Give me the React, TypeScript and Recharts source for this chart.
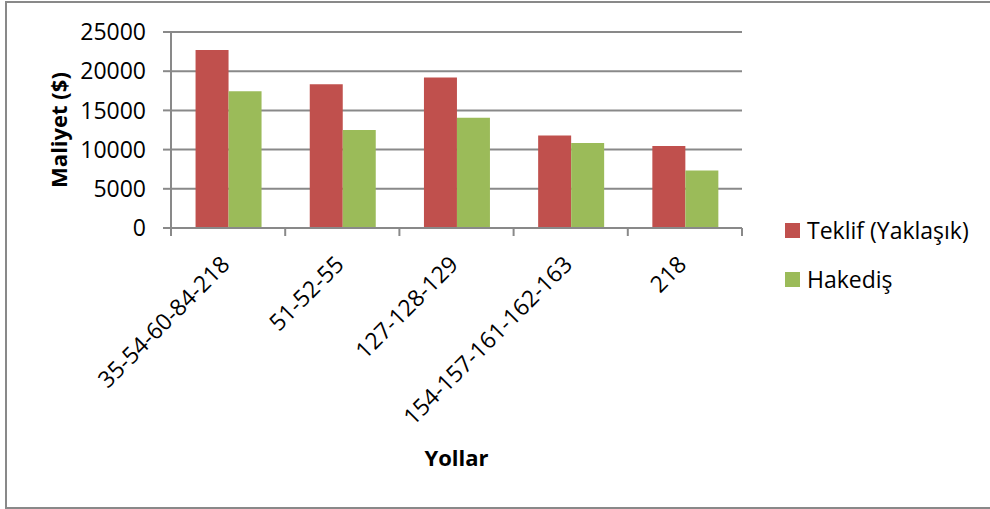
import React from "react";
import { BarChart, Bar, XAxis, YAxis, CartesianGrid, Legend, Label } from "recharts";

const categories = ["35-54-60-84-218", "51-52-55", "127-128-129", "154-157-161-162-163", "218"];
const teklif = [22700, 18350, 19200, 11800, 10450];
const hakedis = [17450, 12500, 14050, 10850, 7350];
const yTicks = [0, 5000, 10000, 15000, 20000, 25000];

const seriesNames = { teklif: "Teklif (Yaklaşık)", hakedis: "Hakediş" };
const colors = { teklif: "#C0504D", hakedis: "#9BBB59" };
const gray = "#898989";
const font = "'Open Sans', sans-serif";
const fs = 23;
const fsTitle = 22;

const data = categories.map((c, i) => ({ name: c, teklif: teklif[i], hakedis: hakedis[i] }));

const XTick = (props: any) => {
  const { x, payload, index, visibleTicksCount } = props;
  const axisY = 228;
  const half = payload && payload.offset ? payload.offset : 57.1;
  const ax = x + 3;
  const ay = axisY + 38;
  return (
    <g>
      <line x1={x - half} y1={axisY} x2={x - half} y2={axisY + 8} stroke={gray} strokeWidth={2} />
      {index === visibleTicksCount - 1 && (
        <line x1={x + half} y1={axisY} x2={x + half} y2={axisY + 8} stroke={gray} strokeWidth={2} />
      )}
      <text
        x={ax}
        y={ay}
        textAnchor="end"
        transform={`rotate(-45, ${ax}, ${ay})`}
        fontFamily={font}
        fontSize={fs}
        fill="#000"
      >
        {payload.value}
      </text>
    </g>
  );
};

const LegendContent = () => (
  <div style={{ fontFamily: font, fontSize: fs, color: "#000", whiteSpace: "nowrap", width: 220 }}>
    {(["teklif", "hakedis"] as const).map((k, i) => (
      <div key={k} style={{ display: "flex", alignItems: "center", height: 30, marginBottom: i === 0 ? 19 : 0 }}>
        <span
          style={{
            display: "inline-block",
            flex: "0 0 15px",
            width: 15,
            minWidth: 15,
            height: 15,
            background: colors[k],
            marginRight: 7,
          }}
        />
        <span>{seriesNames[k]}</span>
      </div>
    ))}
  </div>
);

export default function App() {
  return (
    <div style={{ position: "absolute", left: 0, top: 0, width: 990, height: 509, background: "#fff", overflow: "hidden" }}>
      <div
        style={{
          position: "absolute",
          left: 5,
          top: 1,
          width: 1000,
          height: 504,
          border: `2px solid ${gray}`,
          borderRight: "none",
        }}
      />
      <div style={{ position: "absolute", left: 0, top: 0 }}>
        <BarChart
          width={990}
          height={509}
          data={data}
          margin={{ top: 32, right: 248, bottom: 0, left: 0 }}
          barCategoryGap="21.5%"
          barGap={0}
        >
          <CartesianGrid vertical={false} stroke={gray} strokeWidth={2} strokeDasharray="" />
          <XAxis
            dataKey="name"
            height={281}
            axisLine={{ stroke: gray, strokeWidth: 2 }}
            tickLine={false}
            tick={<XTick />}
            interval={0}
          >
            <Label
              content={(p: any) => {
                const vb = p.viewBox;
                return (
                  <text
                    x={vb.x + vb.width / 2}
                    y={vb.y + 238}
                    textAnchor="middle"
                    fontFamily={font}
                    fontSize={fsTitle}
                    fontWeight="bold"
                    fill="#000"
                  >
                    Yollar
                  </text>
                );
              }}
            />
          </XAxis>
          <YAxis
            width={171}
            domain={[0, 25000]}
            ticks={yTicks}
            interval={0}
            axisLine={{ stroke: gray, strokeWidth: 2 }}
            tickLine={{ stroke: gray, strokeWidth: 2 }}
            tickSize={8}
            tickMargin={17}
            tick={{ fontFamily: font, fontSize: fs, fill: "#000" }}
          >
            <Label
              content={(p: any) => {
                const vb = p.viewBox;
                const cx = vb.x + 58;
                const cy = vb.y + vb.height / 2;
                return (
                  <text
                    x={cx}
                    y={cy}
                    textAnchor="middle"
                    dominantBaseline="central"
                    transform={`rotate(-90, ${cx}, ${cy})`}
                    fontFamily={font}
                    fontSize={fsTitle}
                    fontWeight="bold"
                    fill="#000"
                  >
                    Maliyet ($)
                  </text>
                );
              }}
            />
          </YAxis>
          <Legend
            layout="vertical"
            align="right"
            verticalAlign="middle"
            content={<LegendContent />}
            wrapperStyle={{ position: "absolute", left: 785, top: 215, width: 0, height: 0 }}
          />
          <Bar dataKey="teklif" name={seriesNames.teklif} fill={colors.teklif} isAnimationActive={false} />
          <Bar dataKey="hakedis" name={seriesNames.hakedis} fill={colors.hakedis} isAnimationActive={false} />
        </BarChart>
      </div>
    </div>
  );
}
